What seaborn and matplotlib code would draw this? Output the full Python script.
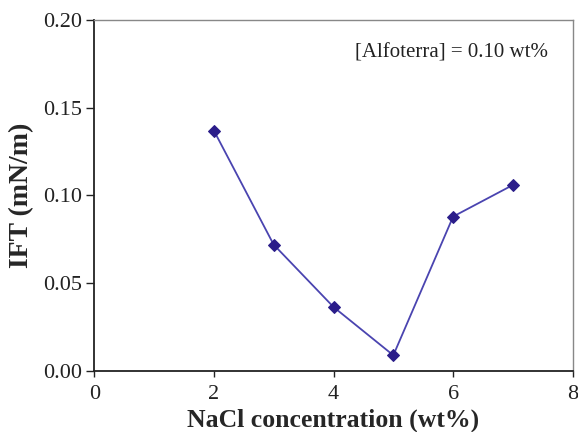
import matplotlib
matplotlib.use("Agg")
import matplotlib.pyplot as plt
import seaborn as sns
import pandas as pd

nacl = [2, 3, 4, 5, 6, 7]
ift = [0.137, 0.072, 0.0365, 0.009, 0.088, 0.106]

sns.set_theme(style="white")
plt.rcParams['font.family'] = ['Liberation Serif', 'DejaVu Serif']

df = pd.DataFrame({"NaCl": nacl, "IFT": ift})
fig = plt.figure(figsize=(5.78, 4.32), dpi=100)
ax = fig.add_axes([0.163, 0.141, 0.828, 0.813])

sns.lineplot(data=df, x="NaCl", y="IFT", ax=ax, color="#4a44b0", linewidth=1.3,
             marker="D", markersize=6.5, markerfacecolor="#2b1d8a", markeredgecolor="#2b1d8a")

ax.set_xlim(0, 8)
ax.set_ylim(0, 0.20)
ax.set_xticks([0, 2, 4, 6, 8])
ax.set_yticks([0, 0.05, 0.10, 0.15, 0.20])
ax.set_yticklabels(["0.00", "0.05", "0.10", "0.15", "0.20"])
ax.tick_params(axis="both", direction="out", width=1, labelsize=16, colors="#222222",
               bottom=True, left=True)
ax.tick_params(axis="y", length=6, pad=3)
ax.tick_params(axis="x", length=4, pad=6)
for s in ["left", "bottom"]:
    ax.spines[s].set_color("#222222")
    ax.spines[s].set_linewidth(1.3)
for s in ["top", "right"]:
    ax.spines[s].set_color("#888888")
    ax.spines[s].set_linewidth(1.0)

ax.set_xlabel("NaCl concentration (wt%)", fontsize=18.5, fontweight="bold", labelpad=3)
ax.set_ylabel("IFT (mN/m)", fontsize=20, fontweight="bold", labelpad=6)
ax.text(0.948, 0.905, "[Alfoterra] = 0.10 wt%", transform=ax.transAxes, ha="right",
        va="center", fontsize=15, color="#222222")

fig.savefig("out.png", dpi=100)
